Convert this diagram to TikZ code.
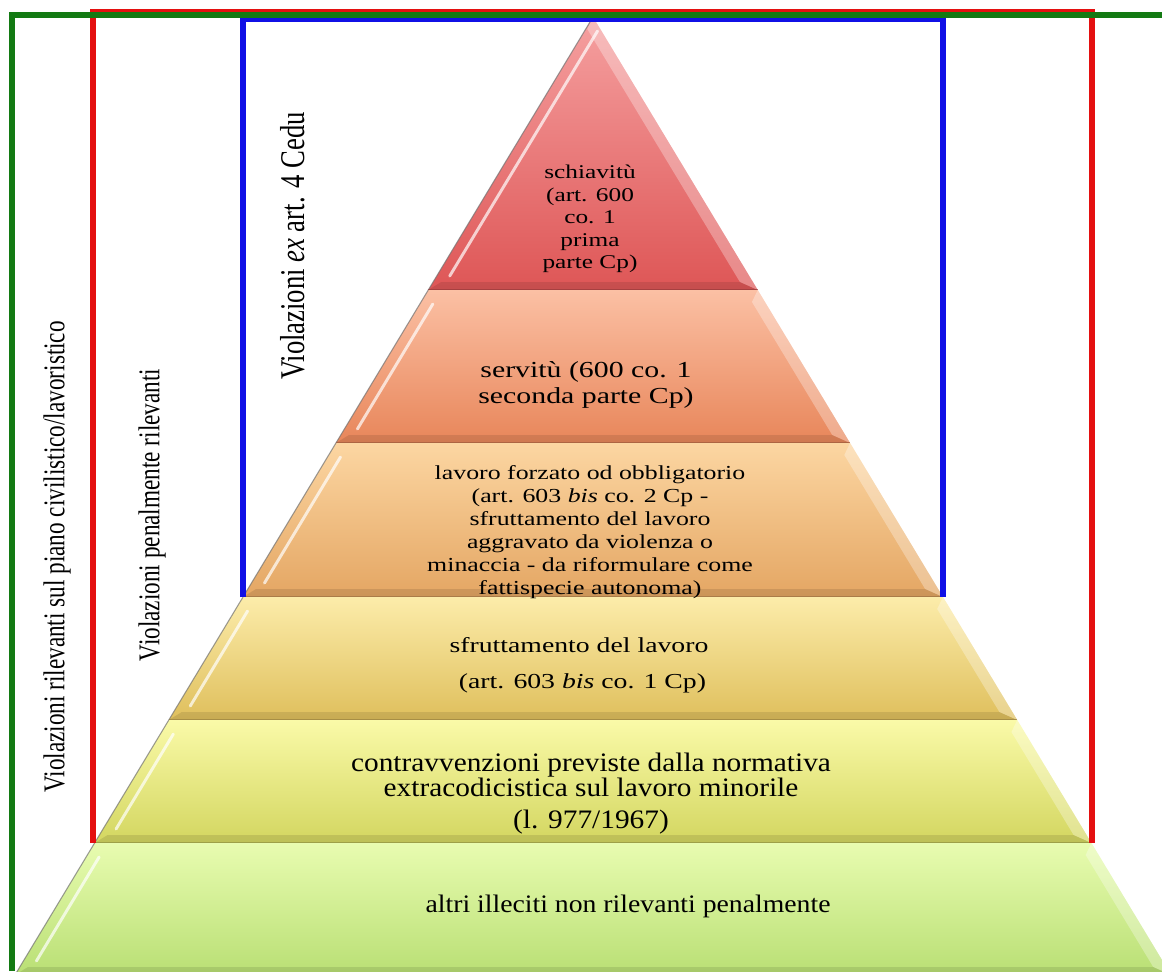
\documentclass[tikz,border=0pt]{standalone}
\usepackage{fontspec}
\setmainfont{Liberation Serif}
\definecolor{gline}{HTML}{137A13}
\definecolor{rline}{HTML}{E41010}
\definecolor{bline}{HTML}{1010E6}
\definecolor{aT}{HTML}{F5A0A0}\definecolor{aB}{HTML}{DE5656}
\definecolor{bT}{HTML}{FBC0A4}\definecolor{bB}{HTML}{E8865A}
\definecolor{cT}{HTML}{FCD6A2}\definecolor{cB}{HTML}{E4A663}
\definecolor{dT}{HTML}{FCECAA}\definecolor{dB}{HTML}{DFBF5C}
\definecolor{eT}{HTML}{FAFAA8}\definecolor{eB}{HTML}{D3D660}
\definecolor{fT}{HTML}{E8FCB0}\definecolor{fB}{HTML}{B9DF74}
\newcommand\pyrlayer[4]{%
  \pgfmathsetmacro\ya{#1}\pgfmathsetmacro\yb{#2}%
  \pgfmathsetmacro\xla{593-0.6034*(\ya-17)}%
  \pgfmathsetmacro\xra{593+0.6034*(\ya-17)}%
  \pgfmathsetmacro\xlb{593-0.6034*(\yb-17)}%
  \pgfmathsetmacro\xrb{593+0.6034*(\yb-17)}%
  \pgfmathsetmacro\xlc{593-0.6034*(\ya+14-17)+13}%
  \pgfmathsetmacro\xld{593-0.6034*(\yb-14-17)+13}%
  \pgfmathsetmacro\xrc{593+0.6034*(\ya+12-17)-13}%
  \pgfmathsetmacro\xrd{593+0.6034*(\yb-8-17)-13}%
  \shade[top color=#3, bottom color=#4] (\xla,\ya) -- (\xra,\ya) -- (\xrb,\yb) -- (\xlb,\yb) -- cycle;
  \fill[white, opacity=.3] (\xra,\ya) -- (\xrb,\yb) -- (\xrd,\yb-8) -- (\xrc,\ya+12) -- cycle;
  \fill[black, opacity=.10] (\xlb,\yb) -- (\xrb,\yb) -- (\xrd,\yb-8) -- (\xlb+13,\yb-8) -- cycle;
  \draw[white, opacity=.7, line width=2.2pt, line cap=round] (\xlc,\ya+14) -- (\xld,\yb-14);
  \draw[black!55, opacity=.7, line width=.8pt] (\xla,\ya) -- (\xlb,\yb);
  \draw[#4!65!black, opacity=.6, line width=1.3pt] (\xlb,\yb) -- (\xrb,\yb);
}
\tikzset{
  vlabel/.style={font=\fontsize{17.4}{20}\selectfont, inner sep=0pt, xscale=1.3, rotate=90},
  ltext/.style={align=center, inner sep=0pt, xscale=1.3, text=black},
  ctext/.style={align=center, inner sep=0pt, xscale=1.1, text=black},
  bracket/.style={line width=3.8pt, line cap=butt, line join=miter}
}
\begin{document}
\begin{tikzpicture}[x=0.75pt,y=-0.75pt]
\useasboundingbox (0,0) rectangle (1162,971);
\fill[white] (0,0) rectangle (1162,971);
\begin{scope}
\clip (0,0) rectangle (1162,971);
% pyramid layers
\pyrlayer{17}{290}{aT}{aB}
\pyrlayer{290}{443}{bT}{bB}
\pyrlayer{443}{597}{cT}{cB}
\pyrlayer{597}{720}{dT}{dB}
\pyrlayer{720}{843}{eT}{eB}
\pyrlayer{843}{975}{fT}{fB}
\end{scope}
% anchor points of the brackets
\coordinate (gb) at (12,971);
\coordinate (gtl) at (12,15);
\coordinate (gtr) at (1162,15);
\coordinate (rbl) at (93,843);
\coordinate (rtl) at (93,12);
\coordinate (rtr) at (1092,12);
\coordinate (rbr) at (1092,843);
\coordinate (bbl) at (243,597);
\coordinate (btl) at (243,19);
\coordinate (btr) at (943,19);
\coordinate (bbr) at (943,597);
\draw[bracket, rline] (rbl) -- (rtl) -- (rtr) -- (rbr);
\draw[bracket, bline] (bbl) -- (btl) -- (btr) -- (bbr);
\draw[bracket, gline] (gb) -- (gtl) -- (gtr);
% vertical labels
\node[vlabel] (civ) at (57,557) {Violazioni rilevanti sul piano civilistico/lavoristico};
\node[vlabel] (pen) at (152,515) {Violazioni penalmente rilevanti};
\node[vlabel, font=\fontsize{20}{22}\selectfont] (cedu) at (293,246) {Violazioni \textit{ex} art. 4 Cedu};
% layer texts
\node[ltext, font=\fontsize{14.6}{16.9}\selectfont] (schiav) at (590,219)
  {schiavitù\\(art. 600\\co. 1\\prima\\parte Cp)};
\node[ltext, font=\fontsize{17.2}{19.5}\selectfont] (serv) at (586,385)
  {servitù (600 co. 1\\seconda parte Cp)};
\node[ltext, font=\fontsize{14.9}{17.25}\selectfont] (forz) at (590,532)
  {lavoro forzato od obbligatorio\\(art. 603 \textit{bis} co. 2 Cp -\\sfruttamento del lavoro\\aggravato da violenza o\\minaccia - da riformulare come\\fattispecie autonoma)};
\node[ltext, font=\fontsize{16}{27}\selectfont] (sfrut) at (579,665)
  {sfruttamento del lavoro\\\ (art. 603 \textit{bis} co. 1 Cp)};
\node[ctext, font=\fontsize{20}{18}\selectfont] (contr) at (591,775)
  {contravvenzioni previste dalla normativa\\extracodicistica sul lavoro minorile};
\node[ctext, font=\fontsize{20}{18}\selectfont] (legge) at (591,822) {(l. 977/1967)};
\node[ctext, font=\fontsize{18.9}{20}\selectfont] (altri) at (628,906)
  {altri illeciti non rilevanti penalmente};
\end{tikzpicture}
\end{document}
